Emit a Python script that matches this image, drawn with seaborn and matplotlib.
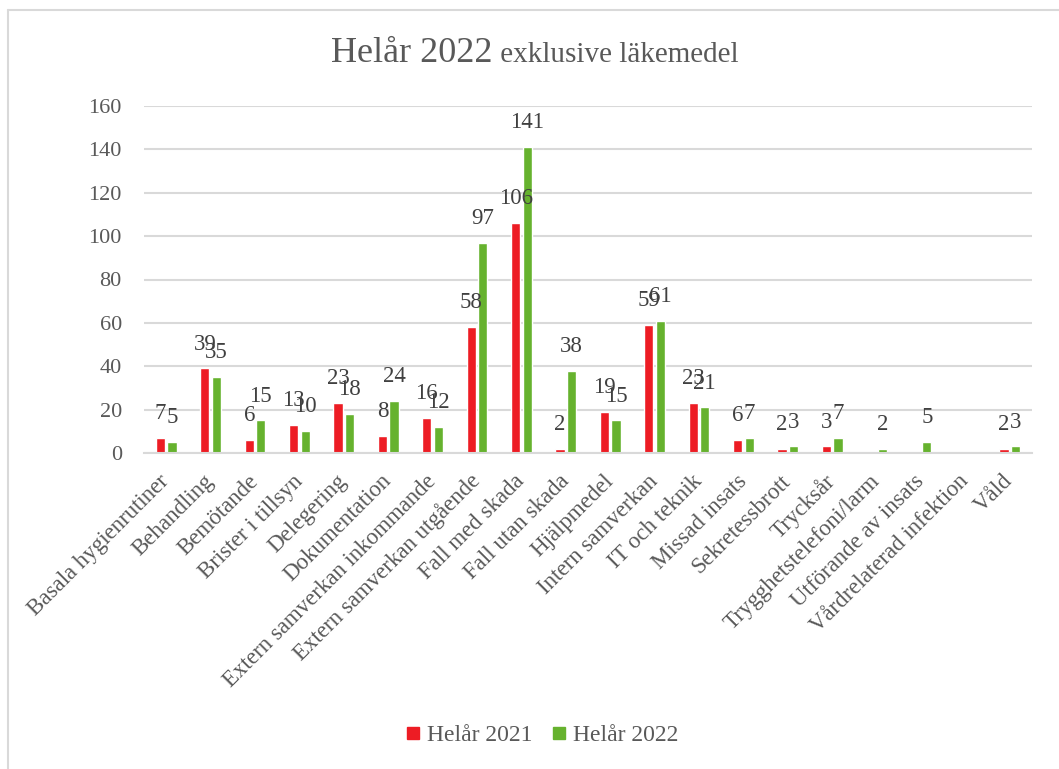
import numpy as np
import pandas as pd
import matplotlib
matplotlib.use("Agg")
import matplotlib.pyplot as plt
from matplotlib.lines import Line2D
import seaborn as sns

categories = [
    "Basala hygienrutiner", "Behandling", "Bemötande", "Brister i tillsyn",
    "Delegering", "Dokumentation", "Extern samverkan inkommande",
    "Extern samverkan utgående", "Fall med skada", "Fall utan skada",
    "Hjälpmedel", "Intern samverkan", "IT och teknik", "Missad insats",
    "Sekretessbrott", "Trycksår", "Trygghetstelefoni/larm",
    "Utförande av insats", "Vårdrelaterad infektion", "Våld",
]
helar_2021 = [7, 39, 6, 13, 23, 8, 16, 58, 106, 2, 19, 59, 23, 6, 2, 3,
              np.nan, np.nan, np.nan, 2]
helar_2022 = [5, 35, 15, 10, 18, 24, 12, 97, 141, 38, 15, 61, 21, 7, 3, 7,
              2, 5, np.nan, 3]
series_names = ["Helår 2021", "Helår 2022"]
y_ticks = [0, 20, 40, 60, 80, 100, 120, 140, 160]

colors = ["#ED1C24", "#66B22E"]
text_color = "#595959"
grid_color = "#D9D9D9"

df = pd.DataFrame({
    "Kategori": categories * 2,
    "Antal": helar_2021 + helar_2022,
    "Period": [series_names[0]] * len(categories) + [series_names[1]] * len(categories),
})

sns.set_theme(style="white")
plt.rcParams["font.family"] = ["Liberation Serif", "DejaVu Serif"]

W, H = 1059, 769
fig = plt.figure(figsize=(W / 100, H / 100), dpi=100)
ax = fig.add_axes([144 / W, 1 - 453 / H, (1032 - 144) / W, (453 - 106) / H])

sns.barplot(data=df, x="Kategori", y="Antal", hue="Period", order=categories,
            hue_order=series_names, palette=colors, width=0.52, gap=0.2,
            saturation=1, ax=ax, legend=False, errorbar=None)

# Value labels above each drawn bar
for container in ax.containers:
    for bar in container:
        if bar is None:
            continue
        h = bar.get_height()
        if np.isnan(h):
            continue
        ax.annotate(f"{int(round(h))}", (bar.get_x() + bar.get_width() / 2, h),
                    xytext=(0, 10), textcoords="offset points",
                    ha="center", va="bottom", fontsize=16.5, color="#404040")

ax.set_ylim(0, 160)
ax.set_xlim(-0.5, len(categories) - 0.5)
ax.set_yticks(y_ticks)
ax.yaxis.grid(True, color=grid_color, linewidth=1.5)
ax.set_axisbelow(True)
for side in ["top", "right", "left"]:
    ax.spines[side].set_visible(False)
ax.spines["bottom"].set_color(grid_color)
ax.spines["bottom"].set_linewidth(1.5)
ax.tick_params(axis="y", length=0, pad=16, labelsize=16, labelcolor=text_color)
ax.tick_params(axis="x", length=0, pad=18, labelsize=16.5, labelcolor=text_color)
ax.set_xticks(range(len(categories)))
ax.set_xticklabels(categories, rotation=45, ha="right", va="center",
                   rotation_mode="anchor")
ax.set_xlabel("")
ax.set_ylabel("")

# Title: larger period, smaller suffix
t1 = fig.text(0.5, 0.5, "Helår 2022", fontsize=26, color=text_color,
              ha="left", va="baseline")
t2 = fig.text(0.5, 0.5, " exklusive läkemedel", fontsize=21,
              color=text_color, ha="left", va="baseline")
fig.canvas.draw()
r = fig.canvas.get_renderer()
w1 = t1.get_window_extent(r).width / W
w2 = t2.get_window_extent(r).width / W
start = 535 / W - (w1 + w2) / 2
t1.set_position((start, 1 - 62 / H))
t2.set_position((start + w1, 1 - 62 / H))

handles = [Line2D([], [], marker="s", linestyle="none", markersize=9,
                  markerfacecolor=c, markeredgecolor=c) for c in colors]
fig.legend(handles, series_names, loc="center", bbox_to_anchor=(540 / W, 1 - 735 / H),
           ncol=2, frameon=False, fontsize=17, handletextpad=0.1,
           handlelength=1.0, columnspacing=0.6, labelcolor=text_color)

# Chart area border
fig.add_artist(plt.Line2D([8 / W, 8 / W], [0, 1 - 10 / H],
                          transform=fig.transFigure, color=grid_color, linewidth=1.5))
fig.add_artist(plt.Line2D([8 / W, 1], [1 - 10 / H, 1 - 10 / H],
                          transform=fig.transFigure, color=grid_color, linewidth=1.5))

fig.savefig("out.png", dpi=100)
